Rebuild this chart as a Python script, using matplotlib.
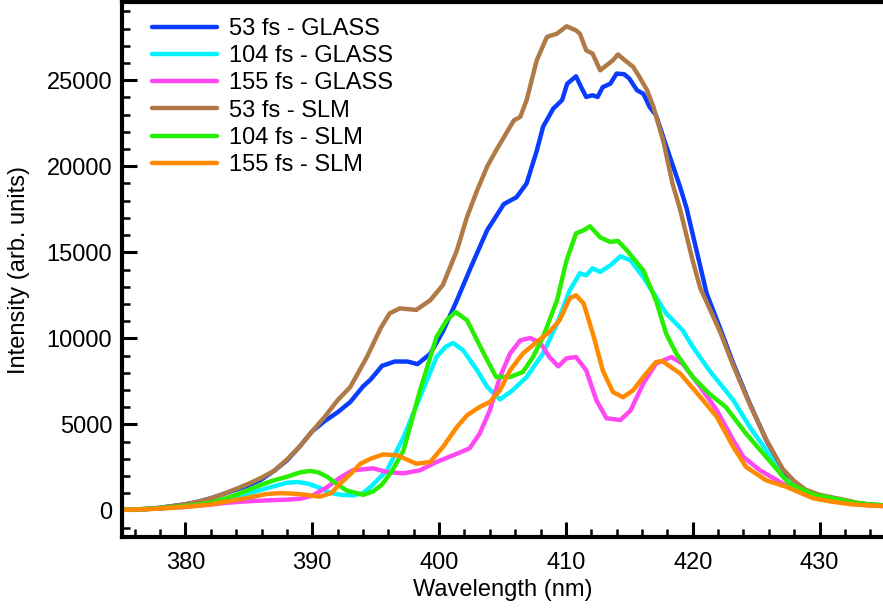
import matplotlib
matplotlib.use("Agg")
import matplotlib.pyplot as plt
from matplotlib.ticker import MultipleLocator

plt.rcParams['font.family'] = ['Liberation Sans', 'DejaVu Sans']

# ---- data ----
x_53_glass = [375, 377, 378, 380, 381, 382, 383, 384, 385, 386, 387, 388, 389, 390, 391, 392, 393, 394,
              394.6, 395.5, 396.5, 397.5, 398.3, 399.3, 400.3, 401.4, 402.4, 403.2, 403.8, 404.5, 405.1,
              406.1, 406.9, 407.7, 408.2, 409.0, 409.7, 410.1, 410.8, 411.2, 411.6, 412.1, 412.5, 412.9,
              413.5, 414.0, 414.6, 415.0, 415.6, 416.1, 416.6, 417.1, 417.9, 419.0, 419.5, 420.3, 421.1,
              422.2, 423.2, 424.5, 425.8, 427.1, 428.0, 428.9, 430, 431, 432, 433.1, 434, 435]
y_53_glass = [30, 80, 150, 350, 500, 700, 950, 1200, 1450, 1800, 2300, 2900, 3700, 4600, 5200, 5700, 6300, 7200,
              7600, 8400, 8650, 8650, 8500, 9100, 10400, 12200, 13950, 15300, 16300, 17100, 17800,
              18200, 19000, 20900, 22300, 23350, 23850, 24800, 25230, 24600, 24030, 24130, 24030, 24600,
              24800, 25390, 25350, 25100, 24420, 24220, 23450, 22970, 21200, 18800, 17600, 15100, 12600,
              10500, 8530, 6200, 4070, 2330, 1600, 1160, 850, 700, 550, 400, 330, 290]

x_104_glass = [375, 377, 379, 380, 381, 382, 383, 384, 385, 386, 387, 388, 388.8, 389.7, 390.6, 391.5, 392.3,
               393.2, 394, 394.6, 395.9, 397.2, 398.5, 399.8, 400.5, 401.1, 401.9, 403, 403.8, 404.8, 405.8,
               406.9, 408.2, 409.3, 410.3, 411.1, 411.6, 412.1, 412.7, 413.5, 414.3, 415.1, 416.1, 417.1,
               417.9, 419.2, 420, 421.3, 423.2, 424.5, 425.8, 427.1, 428.9, 430, 431, 432, 433, 434, 435]
y_104_glass = [30, 80, 180, 250, 330, 430, 600, 800, 1000, 1200, 1400, 1600, 1650, 1550, 1300, 1000, 900,
               870, 1000, 1360, 2330, 4260, 6590, 8910, 9500, 9730, 9300, 8140, 7170, 6450, 6980,
               7750, 9120, 10850, 12790, 13780, 13660, 14070, 13860, 14240, 14770, 14530, 13560, 12400,
               11450, 10470, 9500, 8140, 6400, 4840, 3490, 1940, 1000, 750, 650, 500, 400, 330, 280]

x_155_glass = [375, 377, 379, 380, 381, 382, 383, 384, 385, 386.4, 388, 389.1, 390, 391.2, 392.2, 393.2,
               394.8, 395.9, 397.2, 398.5, 399.8, 401.1, 402.4, 403.2, 404, 404.8, 405.6, 406.4, 407.2,
               408, 408.7, 409.4, 410.05, 410.8, 411.6, 412.4, 413.2, 414.3, 415.1, 416.1, 417.1, 418.3,
               419.2, 420.6, 421.9, 423.2, 424, 425.3, 427.1, 428.9, 430, 431, 432, 433, 434, 435]
y_155_glass = [30, 70, 150, 200, 270, 330, 420, 480, 530, 580, 620, 680, 850, 1360, 1900, 2330,
               2440, 2230, 2150, 2330, 2810, 3200, 3600, 4460, 5810, 7750, 9120, 9880, 10020,
               9710, 8910, 8370, 8840, 8910, 8140, 6400, 5350, 5250, 5810, 7370, 8530, 8910,
               8530, 7170, 5810, 4070, 3100, 2330, 1550, 900, 650, 550, 450, 350, 280, 250]

x_53_slm = [375, 377, 378, 380, 381, 382, 383, 384, 385, 386, 387, 388, 389, 390, 391, 392, 393, 394.3,
            395.4, 396.1, 396.9, 398.2, 399.3, 400.3, 401.4, 402.2, 403, 403.8, 404.5, 405.9, 406.4, 406.9,
            407.7, 408.5, 409.3, 410.05, 410.8, 411.1, 411.6, 412.1, 412.7, 413.2, 413.7, 414.1, 414.8,
            415.3, 415.8, 416.4, 416.9, 417.7, 418.4, 419, 420, 420.6, 421.1, 422.2, 423.2, 424.5, 425.8,
            427.1, 428, 428.9, 430, 431, 432, 433.1, 434, 435]
y_53_slm = [30, 80, 150, 350, 500, 700, 950, 1250, 1550, 1900, 2300, 2950, 3700, 4600, 5450, 6400, 7170, 8900,
            10600, 11450, 11740, 11650, 12210, 13100, 15100, 17050, 18600, 20000, 20930, 22670, 22870, 23840,
            26160, 27520, 27710, 28140, 27900, 27710, 26740, 26550, 25580, 25870, 26160, 26500, 26070,
            25780, 25190, 24420, 23450, 21400, 19000, 17500, 14500, 12900, 12100, 10300, 8400, 6150, 4100,
            2400, 1700, 1200, 900, 750, 600, 420, 340, 300]

x_104_slm = [375, 377, 379, 380, 381, 382, 383, 384, 385, 386, 387, 388, 389, 389.8, 390.5, 391.2, 392,
             392.7, 393.5, 394, 394.8, 395.5, 396.3, 397.2, 398.5, 399.8, 400.6, 401.3, 402.2, 403, 403.8,
             404.5, 405.6, 406.6, 407.4, 408.2, 409.3, 410.05, 410.8, 411.4, 411.9, 412.7, 413.5, 414.1,
             414.8, 416.1, 417.1, 417.9, 418.7, 420, 421.3, 422.6, 424.2, 425.8, 427.6, 429.6, 431, 432,
             433, 434, 435]
y_104_slm = [30, 80, 180, 250, 330, 450, 650, 900, 1200, 1500, 1750, 1950, 2200, 2290, 2200, 1940, 1500,
             1160, 1000, 900, 1100, 1500, 2300, 3490, 6980, 10080, 11050, 11530, 11050, 9880, 8720,
             7750, 7750, 8040, 8910, 10080, 12210, 14530, 16100, 16280, 16510, 15870, 15600, 15660,
             15120, 13950, 12210, 10270, 9120, 7750, 6780, 6010, 4460, 3100, 1550, 900, 700, 550,
             420, 340, 290]

x_155_slm = [375, 377, 379, 380, 381, 382, 383, 384, 385, 386.4, 387.5, 388.5, 389.5, 390.6, 391.5, 392.2,
             393, 393.8, 394.6, 395.6, 396.7, 398.2, 399.3, 400.3, 401.4, 402.2, 403.2, 404, 404.8, 405.6,
             406.6, 407.7, 408.7, 409.5, 410.3, 410.8, 411.4, 412.2, 412.9, 413.7, 414.5, 415.3, 416.1,
             417.1, 417.6, 419, 420.6, 421.9, 423.2, 424.2, 425.8, 427.4, 429.5, 431, 432.5, 434, 435]
y_155_slm = [30, 70, 150, 200, 270, 350, 480, 600, 750, 950, 1000, 970, 900, 800, 1000, 1550,
             2100, 2710, 3000, 3250, 3200, 2710, 2810, 3680, 4840, 5520, 6010, 6300, 6980, 8140,
             9110, 9790, 10370, 11050, 12330, 12500, 12020, 10080, 8140, 6880, 6570, 6980, 7750,
             8620, 8680, 7960, 6590, 5430, 3680, 2520, 1740, 1360, 700, 500, 350, 280, 250]

labels = ["53 fs - GLASS", "104 fs - GLASS", "155 fs - GLASS", "53 fs - SLM", "104 fs - SLM", "155 fs - SLM"]
colors = ["#0a3cff", "#00f4ff", "#ff48f4", "#b07a46", "#28ee00", "#ff8a00"]
series = [(x_53_glass, y_53_glass), (x_104_glass, y_104_glass), (x_155_glass, y_155_glass),
          (x_53_slm, y_53_slm), (x_104_slm, y_104_slm), (x_155_slm, y_155_slm)]

fig = plt.figure(figsize=(8.83, 6.08), dpi=100)
ax = fig.add_axes([122 / 883, (608 - 537) / 608, 1 - 122 / 883, (537 - 2) / 608])

for (xs, ys), c, lab in zip(series, colors, labels):
    ax.plot(xs, ys, color=c, lw=3.2, label=lab, solid_joinstyle='round', solid_capstyle='round')

ax.set_xlim(375, 435)
ax.set_ylim(-1550, 29550)
ax.xaxis.set_major_locator(MultipleLocator(10))
ax.xaxis.set_minor_locator(MultipleLocator(2))
ax.yaxis.set_major_locator(MultipleLocator(5000))
ax.yaxis.set_minor_locator(MultipleLocator(1000))

for s in ['left', 'bottom', 'top']:
    ax.spines[s].set_linewidth(3.0)
ax.spines['right'].set_visible(False)

ax.tick_params(which='major', direction='in', length=11, width=2.2, labelsize=17, pad=7)
ax.tick_params(axis='x', which='major', pad=10.5)
ax.tick_params(which='minor', direction='in', length=5.5, width=1.8)
ax.tick_params(top=False, right=False, which='both')

ax.set_xlabel("Wavelength (nm)", fontsize=17, labelpad=4)
ax.set_ylabel("Intensity (arb. units)", fontsize=17, labelpad=12)

leg = ax.legend(loc='upper left', frameon=False, fontsize=17, handlelength=2.75,
                handletextpad=0.5, labelspacing=0.22, borderaxespad=0.0, borderpad=0.0,
                bbox_to_anchor=(30 / 761, 1 - 16 / 535))

fig.savefig("out.png", dpi=100)
